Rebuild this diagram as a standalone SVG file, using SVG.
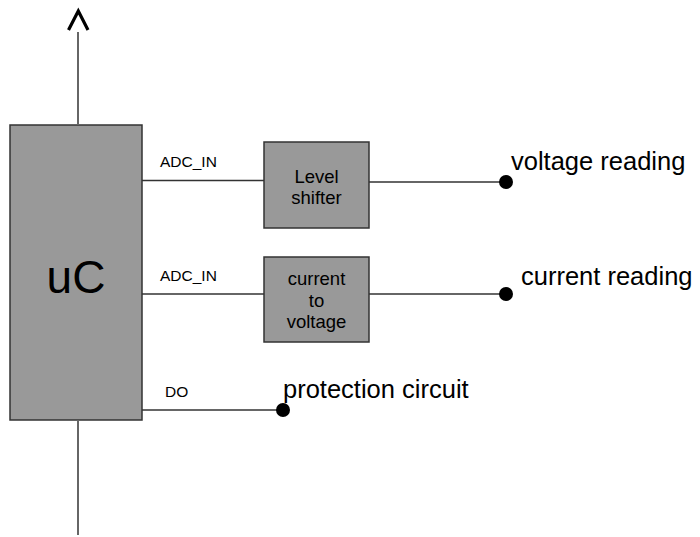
<svg xmlns="http://www.w3.org/2000/svg" width="700" height="537" viewBox="0 0 700 537">
<style>
.box{fill:#999999;stroke:#333333;stroke-width:1.5}
.wire{fill:none;stroke:#333333;stroke-width:1.5}
.dot{fill:#000000}
text{font-family:"Liberation Sans",Arial,sans-serif;fill:#000000}
.pin{font-size:15.5px}
.blk{font-size:18.5px;text-anchor:middle}
.ext{font-size:25.5px}
.big{font-size:46px;text-anchor:middle}
</style>
<rect width="700" height="537" fill="#ffffff"/>
<g id="connectors">
<line class="wire" x1="78" y1="32" x2="78" y2="124"/>
<polyline points="68.5,30 78.3,11 88,30" fill="none" stroke="#000000" stroke-width="3.2"/>
<line class="wire" x1="78" y1="421" x2="78" y2="535"/>
<line class="wire" x1="142" y1="180.5" x2="264" y2="180.5"/>
<line class="wire" x1="142" y1="294" x2="264" y2="294"/>
<line class="wire" x1="142" y1="410" x2="283" y2="410"/>
<line class="wire" x1="369" y1="182" x2="506" y2="182"/>
<line class="wire" x1="369" y1="294" x2="506" y2="294"/>
<text class="pin" x="160" y="167">ADC_IN</text>
<text class="pin" x="160" y="281">ADC_IN</text>
<text class="pin" x="165" y="397">DO</text>
</g>
<g id="uC">
<rect class="box" x="10" y="125" width="132" height="295"/>
<text class="big" x="76" y="293">uC</text>
</g>
<g id="level-shifter">
<rect class="box" x="264" y="142" width="105" height="86"/>
<text class="blk" x="316.5" y="183">Level</text>
<text class="blk" x="316.5" y="204">shifter</text>
</g>
<g id="current-to-voltage">
<rect class="box" x="264" y="257" width="105" height="85"/>
<text class="blk" x="316.5" y="285">current</text>
<text class="blk" x="316.5" y="307">to</text>
<text class="blk" x="316.5" y="328">voltage</text>
</g>
<g id="voltage-reading">
<circle class="dot" cx="506" cy="182" r="7"/>
<text class="ext" x="511" y="170">voltage reading</text>
</g>
<g id="current-reading">
<circle class="dot" cx="506" cy="294" r="7"/>
<text class="ext" x="521" y="285">current reading</text>
</g>
<g id="protection-circuit">
<circle class="dot" cx="283" cy="410" r="7"/>
<text class="ext" x="283" y="398">protection circuit</text>
</g>
</svg>
